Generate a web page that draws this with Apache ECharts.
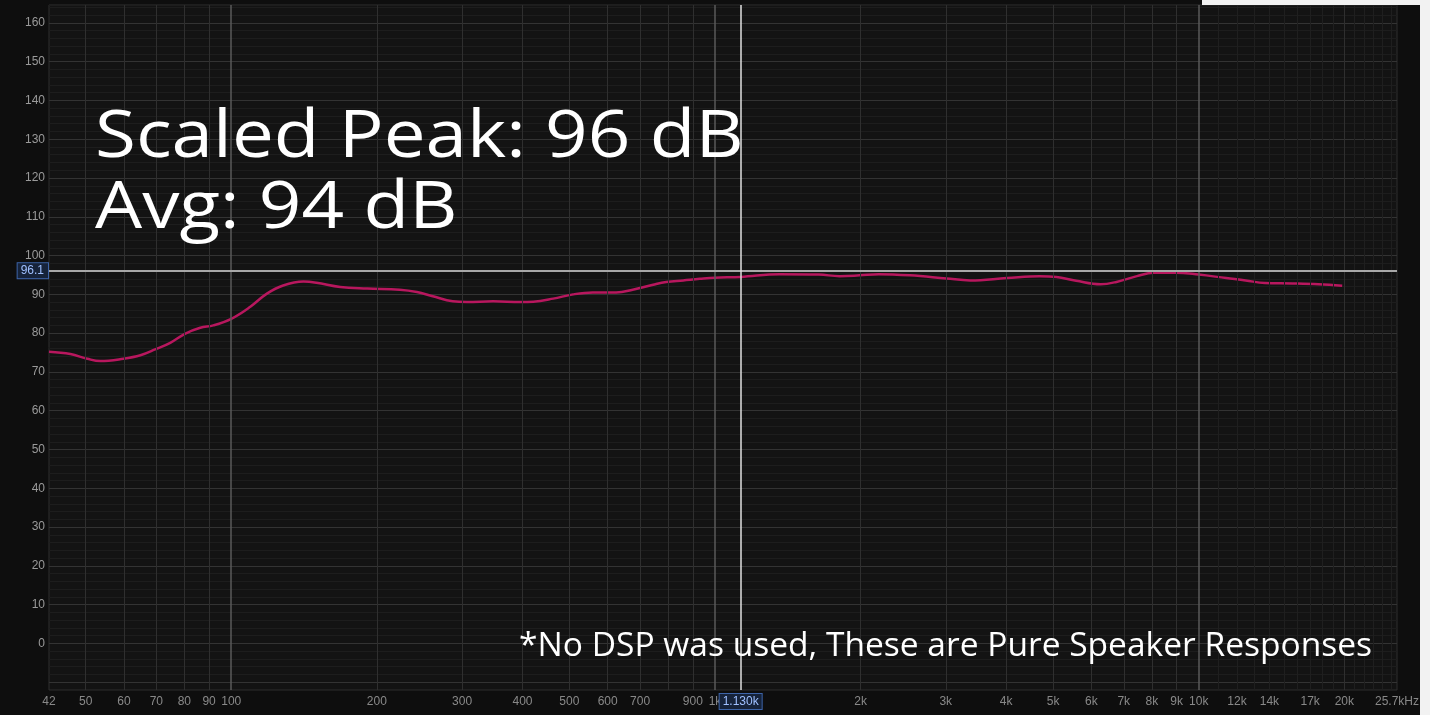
<!DOCTYPE html>
<html>
<head>
<meta charset="utf-8">
<script src="https://cdn.jsdelivr.net/npm/echarts@6/dist/echarts.min.js"></script>
<style>
html,body{margin:0;padding:0;background:#f2f2f2;}
#chart{width:1430px;height:715px;}
</style>
</head>
<body>
<div id="chart"></div>
<script>
// ---- data ----
const freq = [42,46.5,50.4,53.6,59.8,64.9,69.6,74.8,80.4,86.3,
  91.8,100,109.5,118.5,128,141,150,168,191,223,
  242,261,287,307,348,396,421,463,509,559,
  625,676,745,793,860,930,1000,1130,1360,1640,
  1810,1990,2180,2530,3010,3370,4010,4690,5080,5580,
  6270,6760,7450,8070,8970,10000,11400,12500,13700,15600,
  17700,19800];
const spl = [75.2,74.6,73.4,72.8,73.4,74.3,75.8,77.5,79.9,81.4,
  82.0,83.7,86.8,90.2,92.3,93.3,93.0,91.9,91.5,91.2,
  90.6,89.5,88.2,88.0,88.2,88.0,88.1,88.9,90.0,90.5,
  90.5,91.2,92.5,93.2,93.6,94.0,94.3,94.5,95.2,95.1,
  94.7,94.9,95.2,94.9,94.1,93.6,94.2,94.7,94.5,93.5,
  92.6,93.2,94.7,95.6,95.6,95.1,94.2,93.6,92.9,92.8,
  92.6,92.2];
const yTickLabels = [0,10,20,30,40,50,60,70,80,90,100,110,120,130,140,150,160];
const xTickFreqs = [42,50,60,70,80,90,100,200,300,400,500,600,700,900,1000,2000,3000,4000,5000,6000,7000,8000,9000,10000,12000,14000,17000,20000,25700];
const xTickLabels = ['42','50','60','70','80','90','100','200','300','400','500','600','700','900','1k','2k','3k','4k','5k','6k','7k','8k','9k','10k','12k','14k','17k','20k','25.7kHz'];
const xMajorGrid = [100,1000,10000];
const xMinorGrid = [50,60,70,80,90,200,300,400,500,600,700,800,900,2000,3000,4000,5000,6000,7000,8000,9000,20000];
const xFineGrid = [11000,12000,13000,14000,15000,16000,17000,18000,19000,21000,22000,23000,24000,25000];
const peakLevel = 96.1;
const cursorFreq = 1130;
const cursorLabel = '1.130k';
const yMin = -12, yMax = 164.6;

const chart = echarts.init(document.getElementById('chart'), null, {renderer:'canvas'});

function vLines(list, color, width){
  return list.map(f => ({xAxis:f, lineStyle:{color:color, width:width, type:'solid'}, label:{show:false}}));
}

const option = {
  backgroundColor:'#0e0e0e',
  animation:false,
  grid:{left:49, right:33, top:5, bottom:25, show:true, backgroundColor:'#131313', borderColor:'#2e2e2e', borderWidth:1},
  xAxis:{type:'log', logBase:10, min:42, max:25700,
    axisLabel:{show:false}, axisLine:{show:false}, axisTick:{show:false}, splitLine:{show:false}, minorSplitLine:{show:false}},
  yAxis:{type:'value', min:yMin, max:yMax, interval:2,
    axisLine:{show:false}, axisTick:{show:false},
    axisLabel:{color:'#9a9a9a', fontSize:12, fontFamily:'Liberation Sans', margin:4,
      formatter: v => (yTickLabels.indexOf(Math.round(v)) >= 0 && Math.abs(v-Math.round(v))<1e-6) ? String(Math.round(v)) : ''},
    splitLine:{show:true, lineStyle:{color:['#1d1d1d','#333333','#1d1d1d','#1d1d1d','#1d1d1d'], width:1}}
  },
  series:[
    { // grid lines
      type:'line', data:[], z:1, silent:true,
      markLine:{silent:true, symbol:['none','none'], animation:false,
        data:[].concat(vLines(xFineGrid,'#1f1f1f',1), vLines(xMinorGrid,'#2f2f2f',1), vLines(xMajorGrid,'#5a5a5a',1.5))}
    },
    { // response curve
      type:'line', z:3, smooth:0.4, showSymbol:false, silent:true,
      data: freq.map((f,i)=>[f, spl[i]]),
      lineStyle:{color:'#b8175e', width:2.5}
    },
    { // peak & cursor
      type:'line', data:[], z:4, silent:true,
      markLine:{silent:true, symbol:['none','none'], animation:false,
        data:[
          {yAxis:peakLevel, lineStyle:{color:'#a8a8a8', width:2, type:'solid'},
            label:{show:true, position:'start', distance:1, formatter:String(peakLevel), color:'#9fc0ff', fontSize:12, fontFamily:'Liberation Sans',
              backgroundColor:'#16233a', borderColor:'#3d64a8', borderWidth:1, padding:[2,4,1,3]}},
          {xAxis:cursorFreq, lineStyle:{color:'#e0e0e0', width:1.5, type:'solid'},
            label:{show:true, position:'start', distance:4, formatter:cursorLabel, color:'#9fc0ff', fontSize:12, fontFamily:'Liberation Sans',
              backgroundColor:'#16233a', borderColor:'#3d64a8', borderWidth:1, padding:[2,3,1,3]}}
        ]}
    },
    { // x tick labels
      type:'scatter', z:3, silent:true, symbolSize:0, clip:false,
      data: xTickFreqs.map((f,i)=>[f, yMin, xTickLabels[i]]),
      label:{show:true, position:'bottom', distance:6, color:'#a8a8a8', fontSize:12, fontFamily:'Liberation Sans',
        formatter:p=>p.value[2]}
    }
  ],
  graphic:[
    {type:'text', x:95, y:105, scaleX:1.13, z:10, silent:true,
      style:{text:'Scaled Peak: 96 dB', fill:'#ffffff', font:'400 66px "Open Sans"', align:'left', verticalAlign:'top'}},
    {type:'text', x:95, y:176, scaleX:1.13, z:10, silent:true,
      style:{text:'Avg: 94 dB', fill:'#ffffff', font:'400 66px "Open Sans"', align:'left', verticalAlign:'top'}},
    {type:'text', x:1372, y:631, scaleX:1.048, z:10, silent:true,
      style:{text:'*No DSP was used, These are Pure Speaker Responses', fill:'#ffffff', font:'400 32px "Open Sans"', align:'right', verticalAlign:'top'}},
    {type:'rect', shape:{x:1420, y:0, width:10, height:715}, style:{fill:'#f2f2f2'}, z:20, silent:true},
    {type:'rect', shape:{x:1202, y:0, width:218, height:5}, style:{fill:'#f2f2f2'}, z:20, silent:true}
  ]
};
chart.setOption(option);
</script>
</body>
</html>
